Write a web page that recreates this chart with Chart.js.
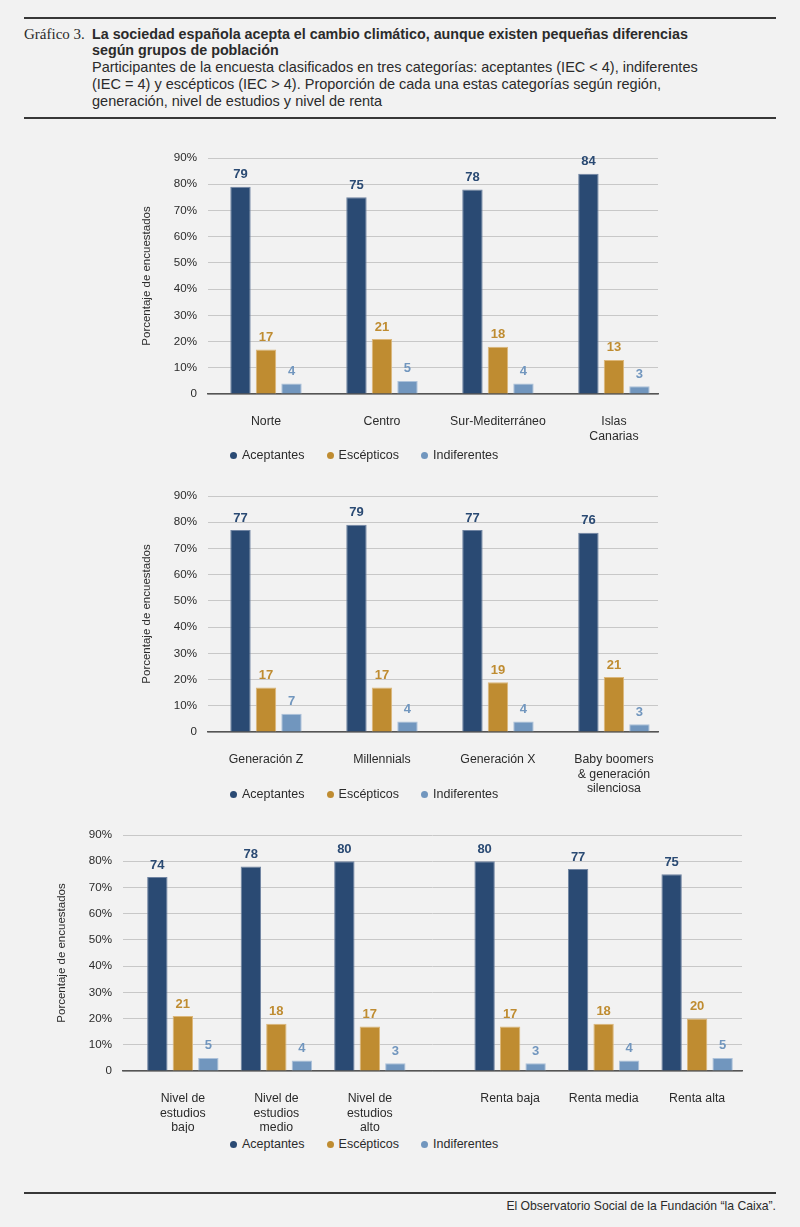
<!DOCTYPE html>
<html lang="es">
<head>
<meta charset="utf-8">
<title>Gráfico 3</title>
<script src="https://cdn.jsdelivr.net/npm/chart.js@4.4.1/dist/chart.umd.min.js"></script>
<style>
  html, body { margin: 0; padding: 0; }
  body {
    width: 800px; height: 1227px; background: #f2f2f2; position: relative; overflow: hidden;
    font-family: "Liberation Sans", Arial, sans-serif; color: #2b2b2b;
  }
  .rule { position: absolute; left: 24px; width: 752px; height: 2px; background: #383838; }
  .num { position: absolute; left: 24px; top: 26px; font-family: "Liberation Serif", serif; font-size: 15px; line-height: 16.5px; }
  .head { position: absolute; left: 92px; top: 25.75px; white-space: nowrap; }
  .head b { display: block; font-size: 14.3px; line-height: 16.5px; }
  .head div { font-size: 14.5px; line-height: 17px; }
  .box { position: absolute; left: 0; width: 800px; height: 316px; }
  .legend { position: absolute; left: 230px; height: 14px; display: flex; gap: 22px; align-items: center;
    font-size: 12.5px; color: #2b2b2b; }
  .legend span { display: flex; align-items: center; }
  .legend i { width: 7px; height: 7px; border-radius: 50%; margin-right: 5px; }
  .foot { position: absolute; right: 24px; top: 1199px; font-size: 12.2px; line-height: 14px; color: #2b2b2b; }
</style>
</head>
<body>
<div class="rule" style="top:17px"></div>
<div class="num">Gráfico 3.</div>
<div class="head">
  <b>La sociedad española acepta el cambio climático, aunque existen pequeñas diferencias<br>según grupos de población</b>
  <div>Participantes de la encuesta clasificados en tres categorías: aceptantes (IEC &lt; 4), indiferentes<br>(IEC = 4) y escépticos (IEC &gt; 4). Proporción de cada una estas categorías según región,<br>generación, nivel de estudios y nivel de renta</div>
</div>
<div class="rule" style="top:117px"></div>

<div class="box" style="top:140px"><canvas id="regiones"></canvas></div>
<div class="legend" id="leg1" style="top:448px"></div>

<div class="box" style="top:478px"><canvas id="generaciones"></canvas></div>
<div class="legend" id="leg2" style="top:787px"></div>

<div class="box" style="top:817px"><canvas id="estudiosRenta"></canvas></div>
<div class="legend" id="leg3" style="top:1137px"></div>

<div class="rule" style="top:1192px"></div>
<div class="foot">El Observatorio Social de la Fundación “la Caixa”.</div>

<script>
const series = ['Aceptantes', 'Escépticos', 'Indiferentes'];
const colors = ['#2a4a73', '#bf8c31', '#7196be'];
const edges = ['#7084a2', '#dcb77a', '#adc2da'];
const yTicks = ['0', '10%', '20%', '30%', '40%', '50%', '60%', '70%', '80%', '90%'];

const regiones = ['Norte', 'Centro', 'Sur-Mediterráneo', ['Islas', 'Canarias']];
const regAceptantes = [79, 75, 78, 84];
const regEscepticos = [17, 21, 18, 13];
const regIndiferentes = [4, 5, 4, 3];

const generaciones = ['Generación Z', 'Millennials', 'Generación X', ['Baby boomers', '& generación', 'silenciosa']];
const genAceptantes = [77, 79, 77, 76];
const genEscepticos = [17, 17, 19, 21];
const genIndiferentes = [7, 4, 4, 3];

const estudios = [['Nivel de', 'estudios', 'bajo'], ['Nivel de', 'estudios', 'medio'], ['Nivel de', 'estudios', 'alto']];
const estAceptantes = [74, 78, 80];
const estEscepticos = [21, 18, 17];
const estIndiferentes = [5, 4, 3];

const rentas = ['Renta baja', 'Renta media', 'Renta alta'];
const rentAceptantes = [80, 77, 75];
const rentEscepticos = [17, 18, 20];
const rentIndiferentes = [3, 4, 5];

Chart.defaults.font.family = '"Liberation Sans", Arial, sans-serif';
Chart.defaults.color = '#2b2b2b';

// numbers above each bar
const valueLabels = {
  id: 'valueLabels',
  afterDatasetsDraw(chart) {
    const ctx = chart.ctx;
    ctx.save();
    ctx.font = 'bold 13px "Liberation Sans", Arial, sans-serif';
    ctx.textAlign = 'center';
    ctx.textBaseline = 'middle';
    chart.data.datasets.forEach((ds, i) => {
      ctx.fillStyle = ds.backgroundColor;
      chart.getDatasetMeta(i).data.forEach((bar, j) => {
        const v = ds.data[j];
        if (v == null) return;
        ctx.fillText(v, bar.x, bar.y - 12);
      });
    });
    ctx.restore();
  }
};

function makeChart(id, legendId, labels, values, o) {
  const chart = new Chart(document.getElementById(id), {
    type: 'bar',
    data: {
      labels: labels,
      datasets: series.map((name, i) => ({
        label: name,
        data: values[i],
        backgroundColor: colors[i],
        borderColor: edges[i],
        borderWidth: 1,
        categoryPercentage: o.catPct,
        barPercentage: 0.8
      }))
    },
    options: {
      responsive: true,
      maintainAspectRatio: false,
      animation: false,
      layout: { padding: { left: o.left, right: o.right, top: 18, bottom: 0 } },
      plugins: { legend: { display: false }, tooltip: { enabled: false } },
      scales: {
        x: {
          z: 1,
          grid: { display: false },
          border: { color: '#555', width: 1.5 },
          ticks: { autoSkip: false, maxRotation: 0, padding: 12, font: { size: 12.3 } },
          // leave the same margins the original plot has at both ends
          afterBuildTicks: s => {
            s._startValue = -o.mL;
            s._valueRange = labels.length - 1 + o.mL + o.mR;
          },
          afterFit: s => { s.height = 62; }
        },
        y: {
          min: 0,
          max: 90,
          border: { display: false },
          grid: { color: '#c8c8c8', drawTicks: false },
          ticks: { stepSize: 10, padding: 11, font: { size: 11.6 }, callback: (v, i) => yTicks[i] },
          title: { display: true, text: 'Porcentaje de encuestados', font: { size: 11.5 }, padding: { top: 4, bottom: 4 } },
          afterFit: s => { s.width = 72; }
        }
      }
    },
    plugins: [valueLabels]
  });

  document.getElementById(legendId).innerHTML = chart.data.datasets.map(ds =>
    '<span><i style="background:' + ds.backgroundColor + '"></i>' + ds.label + '</span>').join('');
  return chart;
}

makeChart('regiones', 'leg1', regiones, [regAceptantes, regEscepticos, regIndiferentes],
  { left: 136, right: 142, catPct: 0.66, mL: 0.5, mR: 0.38 });

makeChart('generaciones', 'leg2', generaciones, [genAceptantes, genEscepticos, genIndiferentes],
  { left: 136, right: 142, catPct: 0.66, mL: 0.5, mR: 0.38 });

// estudios and renta share one plot, each group of three set apart by spacer slots
const slots = new Array(12).fill('');
const estSlot = [0, 2, 4];
const rentSlot = [7, 9, 11];
estSlot.forEach((s, i) => { slots[s] = estudios[i]; });
rentSlot.forEach((s, i) => { slots[s] = rentas[i]; });
function spread(est, rent) {
  const out = new Array(12).fill(null);
  estSlot.forEach((s, i) => { out[s] = est[i]; });
  rentSlot.forEach((s, i) => { out[s] = rent[i]; });
  return out;
}

makeChart('estudiosRenta', 'leg3', slots, [
  spread(estAceptantes, rentAceptantes),
  spread(estEscepticos, rentEscepticos),
  spread(estIndiferentes, rentIndiferentes)
], { left: 51, right: 58, catPct: 1.636, mL: 1.28, mR: 0.96 });
</script>
</body>
</html>
